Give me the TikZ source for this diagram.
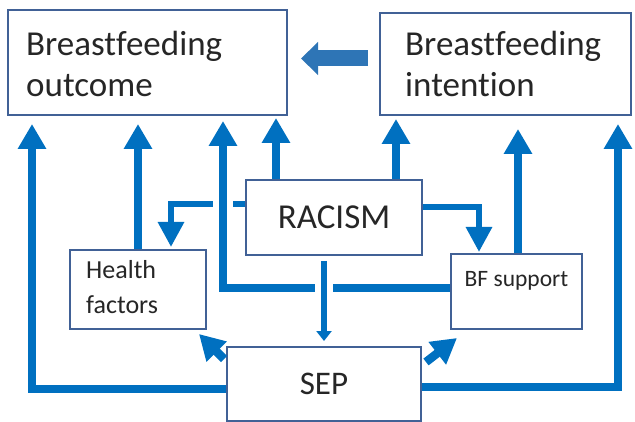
\documentclass[tikz,border=0pt]{standalone}
\usepackage{fontspec}
\setmainfont{Carlito}[Ligatures=NoCommon]
\usetikzlibrary{arrows.meta,calc}
\definecolor{arrowblue}{RGB}{0,112,192}
\definecolor{boxline}{RGB}{65,97,150}
\definecolor{txt}{RGB}{38,38,38}
\definecolor{bigarrow}{RGB}{46,117,182}
\newcommand\fbig{\fontsize{35}{41}\selectfont}
\newcommand\fsep{\fontsize{33}{40}\selectfont}
\newcommand\fmid{\fontsize{26}{35}\selectfont}
\newcommand\fsmall{\fontsize{23.5}{28}\selectfont}
\begin{document}
\begin{tikzpicture}[x=1pt,y=-1pt,
  box/.style={draw=boxline, line width=2pt, fill=white, inner sep=0pt, text=txt},
  big/.style={draw=arrowblue, line width=8.5pt, line join=miter, -{Triangle[width=27pt,length=25pt]}},
  mid/.style={draw=arrowblue, line width=6pt, line join=miter, -{Triangle[width=25pt,length=25pt]}},
  slim/.style={draw=arrowblue, line width=6pt, -{Triangle[width=15pt,length=10pt]}},
  bridge/.style={draw=white},
  lbl/.style={text=txt, inner sep=0pt}]
\useasboundingbox (0,0) rectangle (635,422);
% boxes
\node[box, minimum width=279pt, minimum height=105pt] (outcome) at (147.5,62.5) {};
\node[box, minimum width=251pt, minimum height=102pt] (intention) at (505.5,64) {};
\node[box, minimum width=176pt, minimum height=75pt, font=\fbig] (racism) at (334,217.5) {RACISM};
\node[box, minimum width=136pt, minimum height=79pt] (health) at (138,289.5) {};
\node[box, minimum width=131pt, minimum height=75pt] (bf) at (516.5,291.5) {};
\node[box, minimum width=194pt, minimum height=74pt, font=\fsep] (sep) at (324,384) {SEP};
% texts
\node[lbl, anchor=base west, align=left, font=\fbig] (outcometext) at ($(outcome.north west)+(19,88)$) {Breastfeeding\\outcome};
\node[lbl, anchor=base west, align=left, font=\fbig] (intentiontext) at ($(intention.north west)+(26,85)$) {Breastfeeding\\intention};
\node[lbl, anchor=base west, align=left, font=\fmid] (healthtext) at ($(health.north west)+(17,64)$) {Health\\factors};
\node[lbl, anchor=base, font=\fsmall] (bftext) at ($(bf.north)+(0,34)$) {BF support};
% helper coordinates
\coordinate (rh) at ($(racism.west)+(0,-13.5)$);
\coordinate (bfl) at ($(bf.west)+(0,-3.5)$);
\coordinate (v3) at ($(outcome.south west)+(216,5)$);
% connectors
\draw[big] ($(sep.west)+(0,5)$) -| ($(outcome.south west)+(25,8)$);
\draw[big] (health.north) -- ($(health.north |- outcome.south)+(0,8)$);
\draw[mid] (rh) -| ($(health.north west)+(102,-2)$);
\draw[bridge, line width=20pt] ($(v3 |- rh)+(0,-5)$) -- ($(v3 |- rh)+(0,5)$);
\draw[big] (bfl) -| (v3);
\draw[bridge, line width=12pt] ($(sep.north |- bfl)+(-9,0)$) -- ($(sep.north |- bfl)+(9,0)$);
\draw[slim] ($(sep.north |- racism.south)+(0,5)$) -- ($(sep.north)+(0,-5)$);
\draw[big] ($(racism.north west)+(31,0)$) -- ($(racism.north west |- outcome.south)+(31,2)$);
\draw[big] ($(racism.north west)+(151,0)$) -- ($(racism.north west |- intention.south)+(151,3)$);
\draw[big] ($(bf.north)+(1.5,0)$) -- ($(bf.north |- intention.south)+(1.5,13)$);
\draw[big] ($(sep.east)+(0,3)$) -| ($(intention.south east)+(-14,8)$);
\draw[mid] ($(racism.east)+(0,-10.5)$) -| ($(bf.north west)+(29,-1)$);
\draw[big] ($(sep.north west)+(-2,13)$) -- ($(health.south east)+(-8,4)$);
\draw[big] ($(sep.north east)+(4,16)$) -- ($(bf.south west)+(7,8)$);
\draw[draw=bigarrow, line width=16pt, -{Triangle[width=32pt,length=17pt]}] ($(intention.west)+(-11,-5.5)$) -- ($(outcome.east)+(13,-4)$);
\end{tikzpicture}
\end{document}
